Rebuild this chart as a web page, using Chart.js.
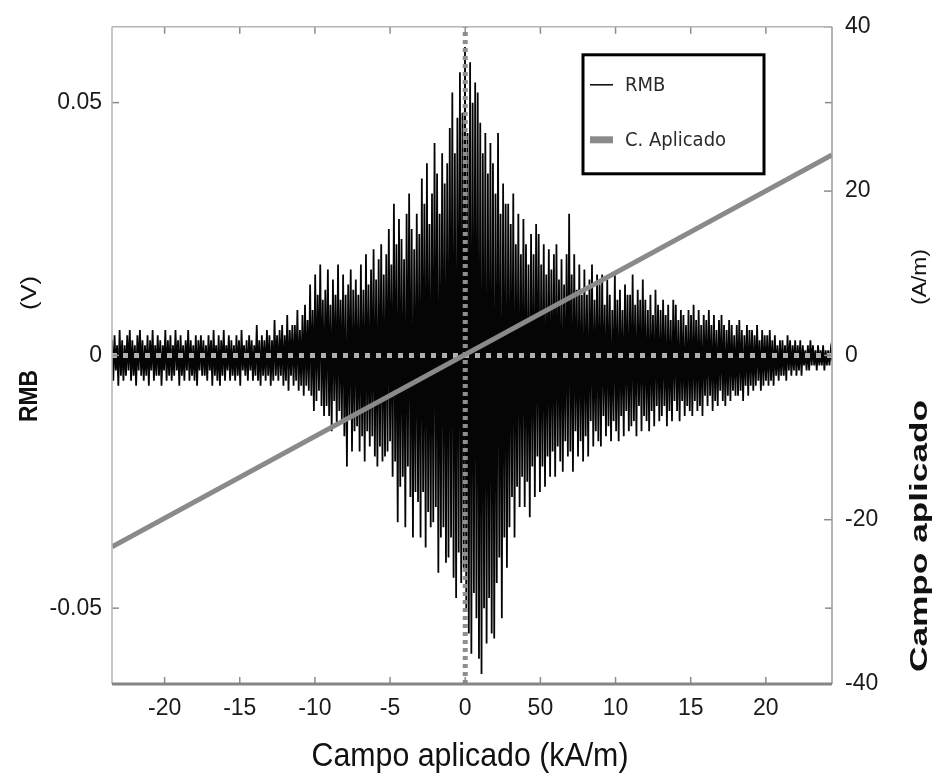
<!DOCTYPE html>
<html>
<head>
<meta charset="utf-8">
<script src="https://cdn.jsdelivr.net/npm/chart.js@4.4.1/dist/chart.umd.min.js"></script>
<style>
    html, body { margin: 0; padding: 0; background: #fff; }
    #wrap { position: relative; width: 932px; height: 779px; }
</style>
</head>
<body>
<div id="wrap"><canvas id="rmbChart"></canvas></div>
<script>
// Campo aplicado (kA/m) al inicio y al final del registro
const X_START = -23.5;
const X_END = 24.4;

// Señal RMB en mV, muestras equiespaciadas de X_START a X_END
const RMB_MV = [
    3,-5,4,-3,2,-6,5,-4,3,-5,2,-4,
    4,-3,5,-5,3,-4,2,-6,4,-3,5,-4,
    3,-5,2,-4,4,-6,3,-3,5,-5,2,-4,
    4,-4,3,-6,2,-3,5,-5,3,-4,4,-5,
    2,-4,5,-3,3,-6,4,-4,2,-5,3,-3,
    5,-5,3,-4,2,-5,4,-6,3,-3,4,-4,
    3,-4,2,-5,4,-3,3,-6,5,-4,2,-5,
    4,-6,3,-4,5,-5,2,-3,4,-5,3,-4,
    2,-5,4,-4,3,-6,5,-3,2,-4,3,-5,
    4,-3,3,-5,2,-4,6,-5,3,-6,4,-4,
    3,-5,5,-4,4,-6,3,-5,7,-4,4,-5,
    5,-4,6,-6,4,-5,8,-7,5,-4,6,-6,
    6,-5,9,-7,5,-6,8,-8,10,-6,7,-7,
    14,-8,9,-11,16,-9,12,-7,18,-10,11,-12,
    13,-10,17,-12,10,-15,15,-9,12,-14,18,-11,
    11,-13,16,-16,12,-22,14,-12,17,-19,13,-15,
    15,-14,12,-19,18,-16,13,-21,20,-15,14,-18,
    17,-16,21,-20,15,-22,19,-18,22,-21,16,-20,
    20,-19,25,-17,18,-24,30,-21,22,-33,27,-26,
    23,-24,19,-34,28,-22,32,-28,25,-36,21,-27,
    28,-29,24,-36,35,-27,30,-38,38,-31,26,-34,
    32,-33,42,-30,36,-43,28,-36,40,-34,34,-41,
    38,-40,45,-36,52,-44,40,-48,47,-39,56,-45,
    48,-42,61,-50,44,-55,58,-59,50,-47,54,-52,
    52,-60,46,-63,40,-50,44,-57,36,-48,42,-55,
    38,-56,32,-45,44,-40,28,-52,34,-36,30,-42,
    30,-34,26,-28,32,-36,22,-26,28,-30,20,-24,
    27,-30,22,-25,18,-32,24,-22,20,-28,26,-20,
    24,-27,18,-22,22,-26,16,-20,21,-24,17,-19,
    20,-24,22,-18,15,-21,19,-23,14,-17,20,-20,
    28,-19,16,-23,20,-15,13,-20,18,-17,12,-21,
    17,-16,12,-20,15,-13,18,-18,11,-15,16,-17,
    14,-18,16,-12,10,-16,15,-14,12,-17,9,-13,
    16,-15,11,-17,13,-12,9,-16,14,-11,12,-15,
    12,-14,16,-13,10,-16,13,-10,11,-15,15,-12,
    11,-13,9,-15,12,-11,8,-14,13,-10,10,-13,
    9,-12,11,-10,8,-14,10,-11,7,-13,11,-9,
    10,-11,7,-13,9,-9,8,-12,6,-10,9,-11,
    8,-12,10,-9,7,-11,9,-10,6,-12,8,-8,
    7,-10,9,-8,6,-11,8,-9,5,-10,7,-7,
    8,-9,6,-10,5,-8,7,-9,6,-7,4,-8,
    6,-8,7,-7,5,-9,4,-6,6,-8,5,-6,
    5,-7,4,-6,6,-5,3,-7,5,-6,4,-5,
    4,-6,5,-5,3,-6,4,-4,2,-5,3,-4,
    3,-4,2,-5,4,-3,3,-4,2,-3,3,-4,
    2,-3,3,-4,2,-2,1,-3,2,-3,3,-2,
    2,-2,1,-3,2,-2,1,-2,2,-3,1,-2,
    1,-2,1,-1
];

// Campo aplicado (A/m), recta de extremo a extremo
const CAMPO_X = [-23.5, 24.4];
const CAMPO_Y = [-23.3, 24.4];

// Ticks
const X_TICKS = [-20, -15, -10, -5, 0, 5, 10, 15, 20];
const X_TICK_TEXT = ['-20', '-15', '-10', '-5', '0', '50', '10', '15', '20'];
const Y_TICKS = [-0.05, 0, 0.05];
const Y_TICK_TEXT = ['-0.05', '0', '0.05'];
const Y2_TICKS = [-40, -20, 0, 20, 40];
const LEGEND_ORDER = ['RMB', 'C. Aplicado'];

const FONT = "'Liberation Sans', Arial, sans-serif";
const NARROW = "'Liberation Sans Narrow', 'DejaVu Sans Condensed', 'Liberation Sans', sans-serif";

const stepX = (X_END - X_START) / (RMB_MV.length - 1);
const rmbPoints = RMB_MV.map((mv, i) => ({ x: X_START + i * stepX, y: mv / 1000 }));
const campoPoints = CAMPO_X.map((x, i) => ({ x, y: CAMPO_Y[i] }));

// Recuadro de la leyenda, con borde negro como en la figura
const legendBox = {
    id: 'legendBox',
    afterDraw(chart) {
        const { ctx, chartArea: a } = chart;
        const x = a.left + 471, y = a.top + 28, w = 181, h = 119;
        ctx.save();
        ctx.fillStyle = '#fff';
        ctx.fillRect(x, y, w, h);
        ctx.lineWidth = 3;
        ctx.strokeStyle = '#000';
        ctx.strokeRect(x, y, w, h);
        LEGEND_ORDER.forEach((name, i) => {
            const d = chart.data.datasets.find(ds => ds.label === name);
            const cy = y + 30 + i * 55;
            ctx.strokeStyle = d.borderColor;
            ctx.lineWidth = d.legendWidth;
            ctx.beginPath();
            ctx.moveTo(x + 7, cy);
            ctx.lineTo(x + 30, cy);
            ctx.stroke();
            ctx.fillStyle = '#2a2a2a';
            ctx.font = '20px ' + NARROW;
            ctx.textAlign = 'left';
            ctx.textBaseline = 'middle';
            ctx.fillText(d.label, x + 42, cy + 1);
        });
        ctx.restore();
    }
};

// Marco gris con ticks hacia dentro (estilo Matlab)
const frameTicks = {
    id: 'frameTicks',
    afterDatasetsDraw(chart) {
        const { ctx, chartArea: a, scales } = chart;
        const seg = (x1, y1, x2, y2) => { ctx.beginPath(); ctx.moveTo(x1, y1); ctx.lineTo(x2, y2); ctx.stroke(); };
        ctx.save();
        ctx.strokeStyle = '#8c8c8c';
        ctx.lineWidth = 1.5;
        X_TICKS.forEach(v => {
            const px = scales.x.getPixelForValue(v);
            seg(px, a.bottom, px, a.bottom - 7);
            seg(px, a.top, px, a.top + 7);
        });
        Y_TICKS.forEach(v => {
            const py = scales.y.getPixelForValue(v);
            seg(a.left, py, a.left + 7, py);
            seg(a.right, py, a.right - 7, py);
        });
        Y2_TICKS.forEach(v => {
            const py = scales.y2.getPixelForValue(v);
            seg(a.right, py, a.right - 8, py);
        });
        ctx.strokeStyle = '#b5b5b5';
        ctx.lineWidth = 1.5;
        seg(a.left, a.top, a.right, a.top);
        seg(a.left, a.top, a.left, a.bottom);
        ctx.strokeStyle = '#9a9a9a';
        seg(a.right, a.top, a.right, a.bottom);
        ctx.strokeStyle = '#858585';
        ctx.lineWidth = 3;
        seg(a.left, a.bottom, a.right, a.bottom);
        ctx.restore();
    }
};

// Títulos de los ejes
function drawFitted(ctx, text, font, cx, cy, len, rot) {
    ctx.save();
    ctx.font = font;
    const w = ctx.measureText(text).width;
    ctx.translate(cx, cy);
    ctx.rotate(rot);
    ctx.scale(len / w, 1);
    ctx.textAlign = 'center';
    ctx.textBaseline = 'middle';
    ctx.fillText(text, 0, 0);
    ctx.restore();
}

const axisTitles = {
    id: 'axisTitles',
    afterDraw(chart) {
        const ctx = chart.ctx;
        ctx.fillStyle = '#111';
        drawFitted(ctx, 'RMB', 'bold 25px ' + FONT, 30, 396, 52, -Math.PI / 2);
        drawFitted(ctx, '(V)', '22px ' + FONT, 30, 293, 34, -Math.PI / 2);
        drawFitted(ctx, 'Campo aplicado', 'bold 24px ' + FONT, 920, 536, 272, -Math.PI / 2);
        drawFitted(ctx, '(A/m)', '20px ' + FONT, 920, 277, 56, -Math.PI / 2);
        drawFitted(ctx, 'Campo aplicado (kA/m)', '33px ' + FONT, 470, 757, 317, 0);
    }
};

const tickFont = { family: FONT, size: 23 };

new Chart(document.getElementById('rmbChart'), {
    type: 'line',
    data: {
        datasets: [
            {
                label: 'C. Aplicado',
                data: campoPoints,
                yAxisID: 'y2',
                borderColor: '#8a8a8a',
                borderWidth: 5,
                pointRadius: 0,
                legendWidth: 7,
                order: 0
            },
            {
                label: 'cero horizontal',
                data: [{ x: X_START, y: 0 }, { x: X_END, y: 0 }],
                yAxisID: 'y',
                borderColor: '#b0b0b0',
                borderWidth: 5,
                borderDash: [5, 6],
                pointRadius: 0,
                order: 1
            },
            {
                label: 'cero vertical',
                data: [{ x: 0, y: -0.065 }, { x: 0, y: 0.065 }],
                yAxisID: 'y',
                borderColor: '#8f8f8f',
                borderWidth: 5,
                borderDash: [4, 4],
                pointRadius: 0,
                order: 1
            },
            {
                label: 'RMB',
                data: rmbPoints,
                yAxisID: 'y',
                borderColor: '#050505',
                borderWidth: 1.8,
                pointRadius: 0,
                tension: 0,
                legendWidth: 1.5,
                order: 2
            }
        ]
    },
    options: {
        responsive: true,
        maintainAspectRatio: false,
        animation: false,
        events: [],
        layout: { padding: { top: 20, left: 0, right: 0, bottom: 0 } },
        plugins: {
            legend: { display: false },
            tooltip: { enabled: false }
        },
        scales: {
            x: {
                type: 'linear',
                min: X_START,
                max: X_END,
                afterBuildTicks: axis => { axis.ticks = X_TICKS.map(v => ({ value: v })); },
                afterFit: axis => { axis.height = 95; },
                ticks: {
                    font: tickFont,
                    color: '#1a1a1a',
                    padding: 11,
                    maxRotation: 0,
                    callback: v => X_TICK_TEXT[X_TICKS.indexOf(v)]
                },
                grid: { display: false, drawTicks: false },
                border: { display: false }
            },
            y: {
                type: 'linear',
                position: 'left',
                min: -0.065,
                max: 0.065,
                afterBuildTicks: axis => { axis.ticks = Y_TICKS.map(v => ({ value: v })); },
                afterFit: axis => { axis.width = 112; },
                ticks: {
                    font: tickFont,
                    color: '#1a1a1a',
                    padding: 10,
                    callback: v => Y_TICK_TEXT[Y_TICKS.indexOf(v)]
                },
                grid: { display: false, drawTicks: false },
                border: { display: false }
            },
            y2: {
                type: 'linear',
                position: 'right',
                min: -40,
                max: 40,
                afterBuildTicks: axis => { axis.ticks = Y2_TICKS.map(v => ({ value: v })); },
                afterFit: axis => { axis.width = 100; },
                ticks: {
                    font: tickFont,
                    color: '#1a1a1a',
                    padding: 13,
                    callback: v => String(v)
                },
                grid: { display: false, drawTicks: false },
                border: { display: false }
            }
        }
    },
    plugins: [frameTicks, axisTitles, legendBox]
});
</script>
</body>
</html>
